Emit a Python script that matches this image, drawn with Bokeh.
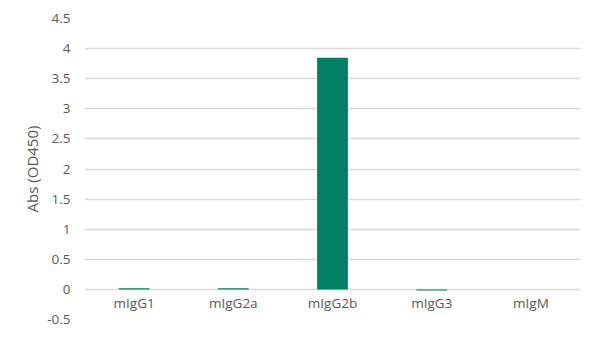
from bokeh.plotting import figure
from bokeh.models import FixedTicker, ColumnDataSource
from bokeh.core.properties import value
from bokeh.embed import file_html
from bokeh.resources import INLINE

categories = ["mIgG1", "mIgG2a", "mIgG2b", "mIgG3", "mIgM"]
values = [0.02, 0.02, 3.85, -0.02, 0.0]
y_ticks = [-0.5, 0, 0.5, 1, 1.5, 2, 2.5, 3, 3.5, 4, 4.5]
y_tick_labels = ["-0.5", "0", "0.5", "1", "1.5", "2", "2.5", "3", "3.5", "4", "4.5"]

FONT = "Open Sans"
GREY = "#595959"

p = figure(width=600, height=340, x_range=categories, y_range=(-0.5, 4.5),
           output_backend="svg", toolbar_location=None,
           min_border_left=84, min_border_right=20, min_border_top=18, min_border_bottom=21)
p.outline_line_color = None
p.background_fill_color = "white"

src = ColumnDataSource(dict(cat=categories, val=values))
p.vbar(x="cat", top="val", bottom=0, width=0.31, source=src,
       fill_color="#007f64", line_color=None)

# category labels just below zero line
lab = ColumnDataSource(dict(cat=categories, y=[-0.23] * len(categories)))
p.text(x="cat", y="y", text="cat", source=lab, text_align="center",
       text_baseline="middle", text_font=value(FONT), text_font_size="13.5px",
       text_color=GREY)

p.xaxis.visible = False
p.xgrid.grid_line_color = None

p.yaxis.ticker = FixedTicker(ticks=y_ticks)
p.yaxis.major_label_overrides = {t: l for t, l in zip(y_ticks, y_tick_labels)}
p.yaxis.axis_line_color = None
p.yaxis.major_tick_line_color = None
p.yaxis.minor_tick_line_color = None
p.yaxis.major_label_text_font = FONT
p.yaxis.major_label_text_font_size = "13.5px"
p.yaxis.major_label_text_color = GREY
p.yaxis.major_label_standoff = 8
p.yaxis.axis_label = "Abs (OD450)"
p.yaxis.axis_label_text_font = FONT
p.yaxis.axis_label_text_font_size = "15px"
p.yaxis.axis_label_text_font_style = "normal"
p.yaxis.axis_label_text_color = GREY
p.yaxis.axis_label_standoff = 2

p.ygrid.ticker = FixedTicker(ticks=y_ticks)
p.ygrid.grid_line_color = "#d9d9d9"
p.ygrid.grid_line_width = 1.5

open("out.html", "w").write(file_html(p, INLINE))
